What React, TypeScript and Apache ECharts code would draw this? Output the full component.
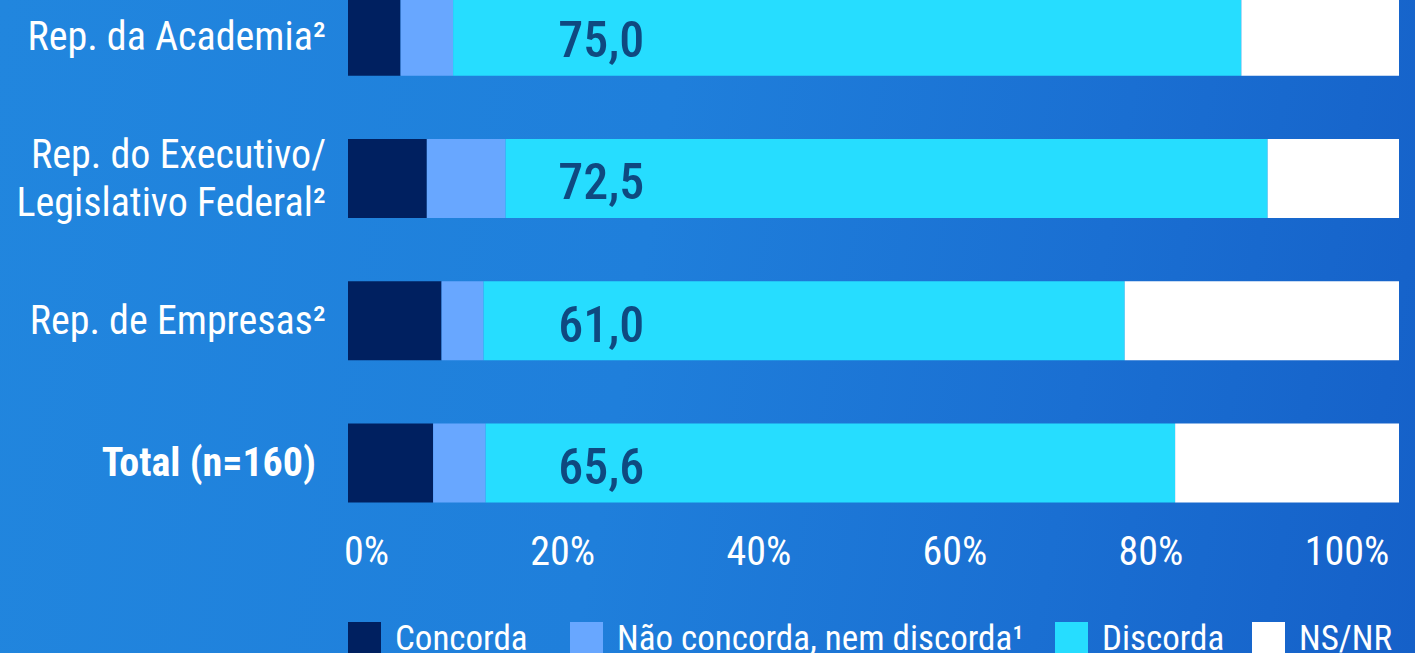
import React, { useEffect, useRef } from "react";
import * as echarts from "echarts";

const categories = [
  "Rep. da Academia²",
  "Rep. do Executivo/\nLegislativo Federal²",
  "Rep. de Empresas²",
  "Total (n=160)",
];
const seriesNames = ["Concorda", "Não concorda, nem discorda¹", "Discorda", "NS/NR"];
const concorda = [5.0, 7.5, 8.9, 8.1];
const naoConcorda = [5.0, 7.5, 4.0, 5.0];
const discorda = [75.0, 72.5, 61.0, 65.6];
const nsnr = [15.0, 12.5, 26.1, 21.3];
const tickValues = [0, 20, 40, 60, 80, 100];
const colors = ["#002060", "#68a7ff", "#26ddff", "#ffffff"];
const legendLefts = [348, 570, 1055, 1252];
const LABEL_ANCHOR = 20;

const FONT = "'Roboto Condensed', 'Liberation Sans Narrow', 'DejaVu Sans Condensed', Roboto, sans-serif";

export default function App() {
  const ref = useRef<HTMLDivElement>(null);
  useEffect(() => {
    if (!ref.current) return;
    const chart = echarts.init(ref.current, undefined, { renderer: "svg" });
    const values = [concorda, naoConcorda, discorda, nsnr];
    const barSeries = seriesNames.map((name, i) => ({
      name,
      type: "bar",
      stack: "total",
      xAxisIndex: 0,
      yAxisIndex: 0,
      barWidth: 79,
      itemStyle: { color: colors[i] },
      data: values[i],
    }));
    const legends = seriesNames.map((name, i) => ({
      data: [name],
      left: legendLefts[i],
      top: 621,
      padding: 0,
      itemWidth: 33,
      itemHeight: 33,
      icon: "rect",
      textStyle: { color: "#ffffff", fontSize: 35, fontFamily: FONT, padding: [0, 0, 0, 9] },
    }));
    chart.setOption({
      animation: false,
      backgroundColor: "transparent",
      textStyle: { fontFamily: FONT },
      grid: {
        left: 348,
        right: 16,
        top: -35,
        height: 569,
        containLabel: false,
        outerBoundsMode: "none",
      },
      xAxis: [
        {
          type: "value",
          min: 0,
          max: 100,
          interval: 20,
          axisLine: { show: false },
          axisTick: { show: false },
          splitLine: { show: false },
          axisLabel: { show: false },
        },
        {
          type: "value",
          position: "bottom",
          min: -1.9,
          max: 105.3,
          axisLine: { show: false },
          axisTick: { show: false },
          splitLine: { show: false },
          axisLabel: {
            show: true,
            customValues: tickValues,
            formatter: (v: number) => `${v}%`,
            color: "#ffffff",
            fontSize: 40,
            fontFamily: FONT,
            margin: -3,
          },
        },
      ],
      yAxis: {
        type: "category",
        data: categories,
        inverse: true,
        axisLine: { show: false },
        axisTick: { show: false },
        axisLabel: {
          color: "#ffffff",
          fontSize: 40,
          fontFamily: FONT,
          margin: 22,
          align: "right",
          lineHeight: 48,
          formatter: (v: string) => (v.startsWith("Total") ? `{b|${v}}` : v),
          rich: {
            b: {
              fontWeight: "bold",
              fontSize: 40,
              color: "#ffffff",
              fontFamily: FONT,
              padding: [0, 10, 0, 0],
            },
          },
        },
      },
      legend: legends,
      series: [
        ...barSeries,
        {
          type: "scatter",
          xAxisIndex: 0,
          yAxisIndex: 0,
          symbolSize: 0,
          silent: true,
          data: discorda.map((v, i) => [LABEL_ANCHOR, i, v]),
          label: {
            show: true,
            position: "right",
            distance: 0,
            offset: [0, 4],
            formatter: (p: any) => p.value[2].toFixed(1).replace(".", ","),
            color: "#0a2460",
            fontSize: 50,
            fontWeight: 500,
            fontFamily: FONT,
          },
        },
      ],
    });
    return () => chart.dispose();
  }, []);
  return (
    <div
      style={{
        position: "fixed",
        left: 0,
        top: 0,
        width: 1415,
        height: 653,
        background: "linear-gradient(100deg, #2186de 0%, #1f7fdb 45%, #1a6fd2 75%, #1560c8 100%)",
      }}
    >
      <div ref={ref} style={{ width: 1415, height: 653 }} />
    </div>
  );
}
